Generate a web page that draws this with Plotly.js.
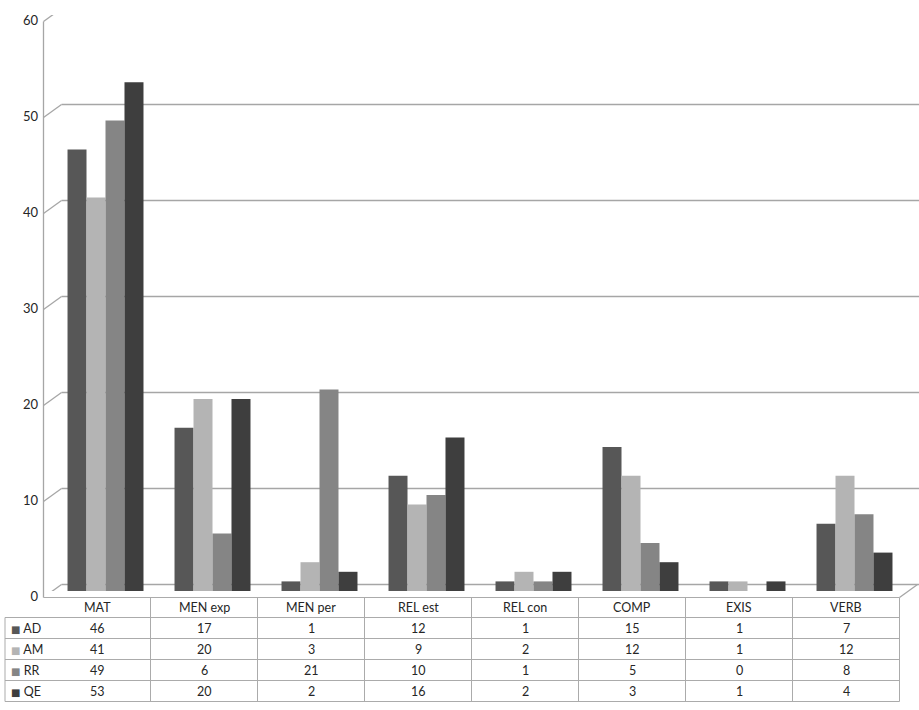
<!DOCTYPE html>
<html>
<head>
<meta charset="utf-8">
<script src="https://cdn.plot.ly/plotly-3.0.1.min.js"></script>
<style>
  html, body { margin: 0; padding: 0; background: #ffffff; }
  #chart { width: 919px; height: 710px; }
</style>
</head>
<body>
<div id="chart"></div>
<script>
// ---- data ----
const categories = ['MAT', 'MEN exp', 'MEN per', 'REL est', 'REL con', 'COMP', 'EXIS', 'VERB'];
const seriesNames = ['AD', 'AM', 'RR', 'QE'];
const AD = [46, 17, 1, 12, 1, 15, 1, 7];
const AM = [41, 20, 3, 9, 2, 12, 1, 12];
const RR = [49, 6, 21, 10, 1, 5, 0, 8];
const QE = [53, 20, 2, 16, 2, 3, 1, 4];
const yTicks = [0, 10, 20, 30, 40, 50, 60];

// ---- style / layout constants ----
const seriesValues = [AD, AM, RR, QE];
const seriesColors = ['#575757', '#b4b4b4', '#858585', '#3e3e3e'];
const W = 919, H = 710;
const M = { l: 52, r: 11, t: 15, b: 119 };
const PW = W - M.l - M.r, PH = H - M.t - M.b;
const FONT = 'Lato, "Open Sans", "DejaVu Sans", sans-serif';
const GRID = '#a6a6a6';
const TABLE = '#ababab';
const DEPTH_X = 8.5, DEPTH_Y = 6.5;   // half of the 3D depth offset in px

const px2x = px => (px - M.l) / PW;
const px2y = py => (M.t + PH - py) / PH;

const traces = seriesNames.map((name, i) => ({
  type: 'bar',
  name: name,
  x: categories,
  y: seriesValues[i],
  marker: { color: seriesColors[i], line: { width: 0 } },
  hoverinfo: 'x+y+name'
}));

const shapes = [];
const annotations = [];

// gridlines: front diagonal + back wall horizontal
yTicks.forEach(v => {
  shapes.push({
    type: 'line', layer: 'below', xref: 'paper', yref: 'y',
    xsizemode: 'pixel', xanchor: 0, x0: -DEPTH_X, x1: DEPTH_X + 1,
    ysizemode: 'pixel', yanchor: v, y0: -DEPTH_Y, y1: DEPTH_Y,
    line: { color: GRID, width: 1.3 }
  });
  shapes.push({
    type: 'line', layer: 'below', xref: 'paper', yref: 'y',
    xsizemode: 'pixel', xanchor: 0, x0: DEPTH_X + 1, x1: PW + 2 * DEPTH_X - 2,
    ysizemode: 'pixel', yanchor: v, y0: DEPTH_Y, y1: DEPTH_Y,
    line: { color: GRID, width: 1.3 }
  });
});

// left front axis line
const frontLeft = M.l - DEPTH_X;
const yFront0 = M.t + PH + DEPTH_Y;          // front position of value 0
const yFrontTop = M.t + DEPTH_Y;             // front position of top value
shapes.push({
  type: 'line', layer: 'below', xref: 'paper', yref: 'paper',
  x0: px2x(frontLeft), x1: px2x(frontLeft), y0: px2y(yFront0), y1: px2y(yFrontTop),
  line: { color: GRID, width: 1.3 }
});
// right floor diagonal
const frontRight = M.l + PW - DEPTH_X;
shapes.push({
  type: 'line', layer: 'below', xref: 'paper', yref: 'paper',
  x0: px2x(frontRight), x1: px2x(frontRight + 2 * DEPTH_X + 1),
  y0: px2y(yFront0), y1: px2y(yFront0 - 2 * DEPTH_Y),
  line: { color: GRID, width: 1.3 }
});

// ---- data table below the plot ----
const headerTop = yFront0;
const rowH = 21;
const headerBottom = headerTop + 20;
const tableBottom = headerBottom + rowH * seriesNames.length;
const tableLeft = 5;

// horizontal table lines
shapes.push({
  type: 'line', xref: 'paper', yref: 'paper',
  x0: px2x(frontLeft), x1: px2x(frontRight), y0: px2y(headerTop), y1: px2y(headerTop),
  line: { color: TABLE, width: 1 }
});
for (let r = 0; r <= seriesNames.length; r++) {
  const yy = headerBottom + r * rowH;
  shapes.push({
    type: 'line', xref: 'paper', yref: 'paper',
    x0: px2x(tableLeft), x1: px2x(frontRight), y0: px2y(yy), y1: px2y(yy),
    line: { color: TABLE, width: 1 }
  });
}
// vertical table lines (at category boundaries)
for (let i = 0; i <= categories.length; i++) {
  shapes.push({
    type: 'line', xref: 'x', yref: 'paper',
    xsizemode: 'pixel', xanchor: i - 0.5, x0: -DEPTH_X, x1: -DEPTH_X,
    y0: px2y(headerTop), y1: px2y(tableBottom),
    line: { color: TABLE, width: 1 }
  });
}
shapes.push({
  type: 'line', xref: 'paper', yref: 'paper',
  x0: px2x(tableLeft), x1: px2x(tableLeft), y0: px2y(headerBottom), y1: px2y(tableBottom),
  line: { color: TABLE, width: 1 }
});

// header labels
categories.forEach(c => {
  annotations.push({
    xref: 'x', yref: 'paper', x: c, xshift: -DEPTH_X,
    y: px2y((headerTop + headerBottom) / 2), yanchor: 'middle', xanchor: 'center',
    text: c, showarrow: false, font: { family: FONT, size: 12.5, color: '#262626' }
  });
});
// rows
seriesNames.forEach((name, r) => {
  const yc = px2y(headerBottom + r * rowH + rowH / 2);
  annotations.push({
    xref: 'paper', yref: 'paper', x: px2x(tableLeft + 4), y: yc,
    xanchor: 'left', yanchor: 'middle', showarrow: false,
    text: '<span style="color:' + seriesColors[r] + ';font-size:10px">■</span> ' + name,
    font: { family: FONT, size: 12.5, color: '#262626' }
  });
  seriesValues[r].forEach((val, i) => {
    annotations.push({
      xref: 'x', yref: 'paper', x: categories[i], xshift: -DEPTH_X,
      y: yc, xanchor: 'center', yanchor: 'middle', showarrow: false,
      text: String(val), font: { family: FONT, size: 12.5, color: '#262626' }
    });
  });
});

const layout = {
  width: W, height: H,
  margin: M,
  paper_bgcolor: '#ffffff', plot_bgcolor: 'rgba(0,0,0,0)',
  showlegend: false,
  barmode: 'group', bargap: 0.29, bargroupgap: 0,
  font: { family: FONT, color: '#262626' },
  xaxis: {
    type: 'category', range: [-0.5, categories.length - 0.5],
    showgrid: false, zeroline: false, showline: false, showticklabels: false, ticks: ''
  },
  yaxis: {
    range: [0, 60], tickvals: yTicks, ticktext: yTicks.map(String),
    showgrid: false, zeroline: false, showline: false, ticks: '',
    ticklabelshift: 5, ticklabelstandoff: 13,
    tickfont: { family: FONT, size: 13, color: '#262626' }
  },
  shapes: shapes,
  annotations: annotations
};

Plotly.newPlot('chart', traces, layout, { displayModeBar: false, staticPlot: true });
</script>
</body>
</html>
